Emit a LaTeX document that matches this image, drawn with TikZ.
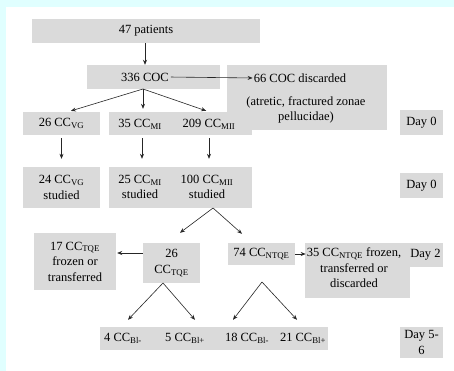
\documentclass[tikz,border=0pt]{standalone}
\usepackage{fontspec}
\setmainfont{Liberation Serif}
\usetikzlibrary{arrows.meta,calc}
\definecolor{cyanbg}{RGB}{224,255,255}
\definecolor{boxgray}{RGB}{218,218,218}
\newcommand\dfont{\fontsize{12.5}{15.5}\selectfont}
\newcommand\sub[1]{\textsubscript{#1}}
\begin{document}
\begin{tikzpicture}[x=1pt,y=-1pt,
  box/.style={fill=boxgray, inner sep=0pt, align=center, font=\dfont},
  txt/.style={inner sep=0pt, align=center, font=\dfont},
  arr/.style={-{Stealth[length=5pt,width=4pt]}, line width=0.6pt, black!85}]
\useasboundingbox (0,0) rectangle (454,371);
\fill[cyanbg] (0,0) rectangle (454,371);
\fill[white] (6,7) rectangle (454,371);
% row 0
\node[box,minimum width=228pt,minimum height=24pt] (pat) at (146,31) {47 patients};
\node[box,minimum width=133pt,minimum height=24pt] (coc) at (153.5,77) {};
\node[txt] (coct) at (145,77) {336 COC};
\node[box,minimum width=160pt,minimum height=65pt] (disc) at (307,97.5) {};
\node[txt] (disct) at (300,78) {66 COC discarded};
\node[txt] (discd) at (306,110) {(atretic, fractured zonae\\pellucidae)};
\draw[arr] (coct |- pat.south) -- (coct |- coc.north);
\draw[arr, shorten <=2pt, shorten >=1pt] (coct.east) -- (disct.west);
% row 1 (Day 0)
\node[box,minimum width=77pt,minimum height=23pt] (gv) at (61.5,123.5) {26 CC\sub{VG}};
\node[box,minimum width=143pt,minimum height=23pt] (mm) at (180.5,123.5) {};
\node[txt] (mit) at (140,124) {35 CC\sub{MI}};
\node[txt] (miit) at (209,124) {209 CC\sub{MII}};
\node[box,minimum width=43pt,minimum height=25pt] (d0a) at (421.5,122.5) {Day 0};
\coordinate (cocb) at (143,89);
\draw[arr, shorten >=3pt] (cocb) -- ($(gv.north)+(6.5,0)$);
\draw[arr, shorten >=3pt] (cocb) -- (cocb |- mm.north);
\draw[arr, shorten >=3pt] (cocb) -- (miit |- mm.north);
% row 2 (Day 0)
\node[box,minimum width=77pt,minimum height=41pt] (gvs) at (61.5,187.5) {24 CC\sub{VG}\\studied};
\node[box,minimum width=143pt,minimum height=41pt] (mms) at (180.5,187.5) {};
\node[txt] (mis) at (140,187) {25 CC\sub{MI}\\studied};
\node[txt] (miis) at (207,187) {100 CC\sub{MII}\\studied};
\node[box,minimum width=43pt,minimum height=25pt] (d0b) at (421.5,185.5) {Day 0};
\draw[arr, shorten <=3pt, shorten >=8pt] (gv.south) -- (gvs.north);
\draw[arr, shorten <=3pt, shorten >=8pt] ($(mm.south -| mit)+(2,0)$) -- ($(mms.north -| mit)+(2,0)$);
\draw[arr, shorten <=3pt, shorten >=8pt] (miit |- mm.south) -- (miit |- mms.north);
% row 3 (Day 2)
\node[box,minimum width=82pt,minimum height=57pt] (tq17) at (75,261.5) {17 CC\sub{TQE}\\frozen or\\transferred};
\node[box,minimum width=57pt,minimum height=40pt] (tq26) at (171.5,263) {26\\CC\sub{TQE}};
\node[box,minimum width=67pt,minimum height=22pt] (n74) at (261.5,254) {74 CC\sub{NTQE}};
\node[box,minimum width=105pt,minimum height=55pt] (n35) at (357.5,270.5) {};
\node[txt] (n35t) at (354,268) {35 CC\sub{NTQE} frozen,\\transferred or\\discarded};
\node[box,minimum width=35pt,minimum height=24pt] (d2) at (425.5,255) {Day 2};
\coordinate (apx1) at (213,208);
\draw[arr] (apx1) -- ($(tq26.north)+(8.5,-10)$);
\draw[arr] (apx1) -- ($(n74.north)+(-19.5,-9)$);
\draw[arr, shorten >=1pt] ($(tq26.west)+(0,-10)$) -- ($(tq17.east)+(0,-8.5)$);
\draw[arr, shorten >=1pt] (n74.east) -- (n74.east -| n35t.west);
% row 4 (Day 5-6)
\node[box,minimum width=228pt,minimum height=23pt] (bl) at (214,338.5) {};
\node[txt] (b1) at (123,338) {4 CC\sub{Bl-}};
\node[txt] (b2) at (185,338) {5 CC\sub{Bl+}};
\node[txt] (b3) at (247,338) {18 CC\sub{Bl-}};
\node[txt] (b4) at (303,338) {21 CC\sub{Bl+}};
\node[box,minimum width=43pt,minimum height=31pt] (d56) at (421.5,342.5) {Day 5-\\6};
\coordinate (apx2) at (163,283);
\coordinate (apx3) at (262,282);
\draw[arr] (apx2) -- ($(bl.north -| b1)+(5,-7)$);
\draw[arr] (apx2) -- ($(bl.north -| b2)+(10,-7)$);
\draw[arr] (apx3) -- ($(bl.north -| b3)+(-14,-7)$);
\draw[arr] (apx3) -- ($(bl.north -| b4)+(-6,-7)$);
\end{tikzpicture}
\end{document}
